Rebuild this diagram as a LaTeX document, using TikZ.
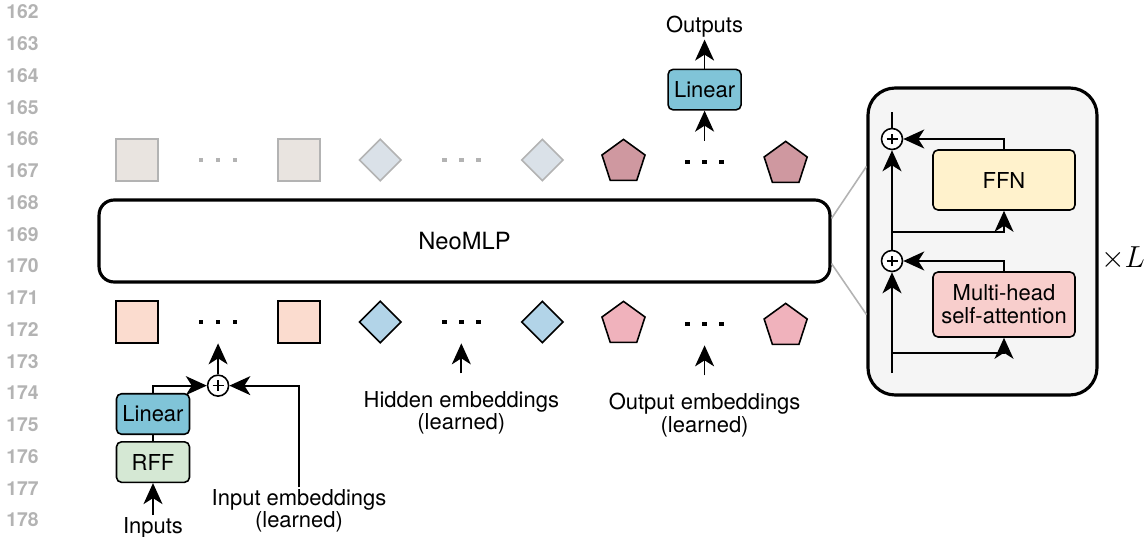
\documentclass[tikz,border=0pt]{standalone}
\usepackage{fontspec}
\setmainfont{TeX Gyre Heros}
\usetikzlibrary{shapes.geometric,arrows.meta,positioning,calc}

\definecolor{sqtop}{HTML}{E9E4E0}
\definecolor{diatop}{HTML}{DAE1E8}
\definecolor{pentop}{HTML}{CF98A0}
\definecolor{sqbot}{HTML}{FBDCCF}
\definecolor{diabot}{HTML}{B2D4E8}
\definecolor{penbot}{HTML}{F0B2BC}
\definecolor{linblue}{HTML}{80C4D8}
\definecolor{rffgreen}{HTML}{D5E8D4}
\definecolor{ffnyellow}{HTML}{FFF2CC}
\definecolor{attred}{HTML}{F8CECC}
\definecolor{blkgray}{HTML}{F5F5F5}
\definecolor{faint}{HTML}{B3B3B3}

\tikzset{
  lbl/.style={font=\fontsize{12.5}{12.8}\selectfont, inner sep=1pt, align=center},
  lineno/.style={font=\bfseries\fontsize{11}{12}\selectfont, text=faint, inner sep=0pt},
  block/.style={rectangle, rounded corners=0.1cm, draw, line width=0.9pt, inner sep=0pt,
    minimum width=1.46cm, minimum height=0.81cm, font=\fontsize{12.5}{13}\selectfont, align=center},
  emb/.style={inner sep=0pt, line width=0.9pt, minimum size=0.84cm},
  embsq/.style={emb, rectangle},
  embdia/.style={emb, diamond},
  embpen/.style={emb, regular polygon, regular polygon sides=5, minimum size=0.905cm, yshift=-0.04cm},
  dotsnode/.style={inner sep=0pt, minimum width=0.84cm, minimum height=0.84cm,
    path picture={\foreach \d in {-0.34,0,0.34}
      \fill[#1] ($(path picture bounding box.center)+(\d cm,0)$) +(-0.045cm,-0.045cm) rectangle +(0.045cm,0.045cm);}},
  dotsnode/.default=black,
  addnode/.style={circle, draw, fill=white, line width=0.9pt, minimum size=0.42cm, inner sep=0pt,
    path picture={
      \draw[line width=0.8pt] ($(path picture bounding box.center)+(-0.11cm,0)$) -- ($(path picture bounding box.center)+(0.11cm,0)$);
      \draw[line width=0.8pt] ($(path picture bounding box.center)+(0,-0.11cm)$) -- ($(path picture bounding box.center)+(0,0.11cm)$);}},
  conn/.style={line width=1pt},
  arr/.style={conn, -{Stealth[length=0.42cm, width=0.38cm, inset=0.12cm]}},
}

\begin{document}
\begin{tikzpicture}[x=0.02cm, y=-0.02cm, node distance=1.622cm]
  \useasboundingbox (0,0) rectangle (1147,537);

  % line numbers in the margin
  \foreach \n [count=\i from 0] in {162,...,178}
    \node (ln\n) [lineno, anchor=east] at (39,{12+31.75*\i}) {\n};

  % backbone
  \node (neo) [rectangle, draw, line width=1.8pt, rounded corners=0.3cm, minimum width=14.62cm,
    minimum height=1.64cm, font=\fontsize{13.5}{15}\selectfont] at (464.5,241) {NeoMLP};

  % output tokens (top row)
  \node (tsq1) [embsq, draw=faint, fill=sqtop] at (137,160) {};
  \node (tdots1) [dotsnode=faint, right of=tsq1] {};
  \node (tsq2) [embsq, draw=faint, fill=sqtop, right of=tdots1] {};
  \node (tdia1) [embdia, draw=faint, fill=diatop, right of=tsq2] {};
  \node (tdots2) [dotsnode=faint, right of=tdia1] {};
  \node (tdia2) [embdia, draw=faint, fill=diatop, right of=tdots2] {};
  \node (tpen1) [embpen, draw, fill=pentop, right of=tdia2] {};
  \node (tdots3) [dotsnode, right of=tpen1] {};
  \node (tpen2) [embpen, draw, fill=pentop, right of=tdots3] {};

  % input tokens (bottom row)
  \node (bsq1) [embsq, draw, fill=sqbot] at (137,322) {};
  \node (bdots1) [dotsnode, right of=bsq1] {};
  \node (bsq2) [embsq, draw, fill=sqbot, right of=bdots1] {};
  \node (bdia1) [embdia, draw, fill=diabot, right of=bsq2] {};
  \node (bdots2) [dotsnode, right of=bdia1] {};
  \node (bdia2) [embdia, draw, fill=diabot, right of=bdots2] {};
  \node (bpen1) [embpen, draw, fill=penbot, right of=bdia2] {};
  \node (bdots3) [dotsnode, right of=bpen1] {};
  \node (bpen2) [embpen, draw, fill=penbot, right of=bdots3] {};

  % readout
  \node (linT) [block, fill=linblue, above=0.6cm of tdots3] {Linear};
  \node (out) [lbl, above=0.58cm of linT] {Outputs};
  \draw[arr] (tdots3) -- (linT);
  \draw[arr] (linT) -- (out);

  % input encoding
  \node (linB) [block, fill=linblue] at (153,414) {Linear};
  \node (rff) [block, fill=rffgreen, below=0.12cm of linB] {RFF};
  \node (inp) [lbl, below=0.64cm of rff] {Inputs};
  \node (sum) [addnode, below=0.62cm of bdots1] {};
  \node (inemb) [lbl] at (299,511) {Input embeddings\\(learned)};
  \draw[arr] (inp) -- (rff);
  \draw[conn] (rff) -- (linB);
  \draw[arr] (linB.north) |- (sum.west);
  \draw[arr] (inemb.north) |- (sum.east);
  \draw[arr] (sum) -- (bdots1);

  % learned embeddings
  \node (hidemb) [lbl, below=0.92cm of bdots2] {Hidden embeddings\\(learned)};
  \node (outemb) [lbl, below=0.92cm of bdots3] {Output embeddings\\(learned)};
  \draw[arr, shorten <=0.32cm] (hidemb) -- (bdots2);
  \draw[arr, shorten <=0.32cm] (outemb) -- (bdots3);

  % transformer layer
  \node (blk) [rectangle, draw, line width=1.8pt, fill=blkgray, rounded corners=0.54cm,
    minimum width=4.58cm, minimum height=6.14cm] at (982.5,241.5) {};
  \node (ffn) [block, fill=ffnyellow, minimum width=2.84cm, minimum height=1.2cm] at (1004,180) {FFN};
  \node (mhsa) [block, fill=attred, minimum width=2.84cm, minimum height=1.3cm] at (1004,304.5) {Multi-head\\self-attention};
  \node (sum1) [addnode] at (892,261) {};
  \node (sum2) [addnode] at (892,139) {};
  \coordinate (stembot) at (892,373);
  \coordinate (stemtop) at (892,112);
  \coordinate (br1) at (892,353);
  \coordinate (br2) at (892,232);
  \draw[arr] (stembot) -- (sum1);
  \draw[arr] (sum1) -- (sum2);
  \draw[conn] (sum2) -- (stemtop);
  \draw[arr] (br1) -| (mhsa.south);
  \draw[arr] (br2) -| (ffn.south);
  \draw[arr] (mhsa.north) |- (sum1.east);
  \draw[arr] (ffn.north) |- (sum2.east);
  \node (rep) [font=\fontsize{16}{18}\selectfont] at (1123,258) {$\times L$};

  % zoom lines
  \draw[faint, line width=0.9pt] ($(neo.north east)+(0,20)$) -- ($(blk.north west)+(0,80)$);
  \draw[faint, line width=0.9pt] ($(neo.south east)+(0,-20)$) -- ($(blk.south west)+(0,-82)$);
\end{tikzpicture}
\end{document}
